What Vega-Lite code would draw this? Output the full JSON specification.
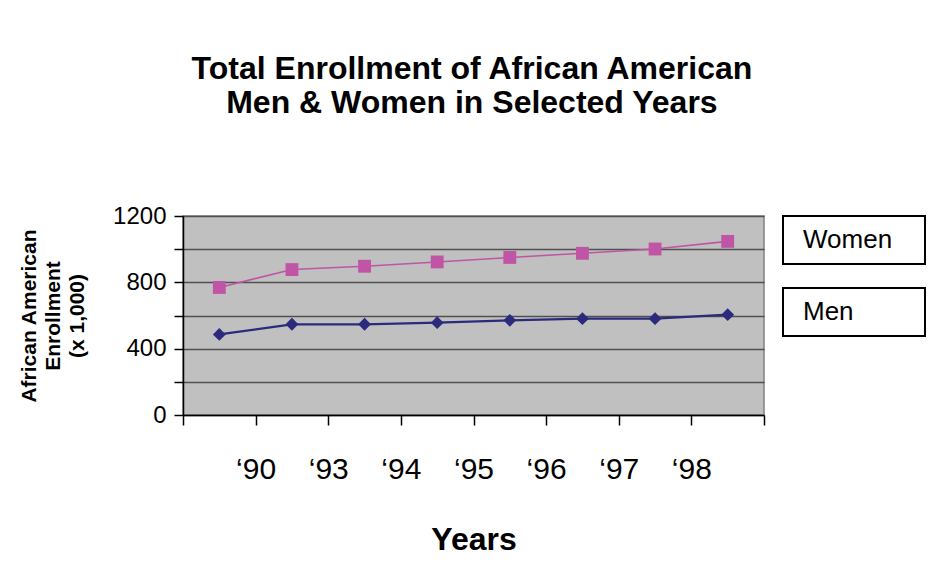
{
  "$schema": "https://vega.github.io/schema/vega-lite/v6.json",
  "background": "white",
  "padding": {"left": 17, "top": 53, "right": 3, "bottom": 5},
  "bounds": "flush",
  "spacing": 19,
  "title": {
    "text": ["Total Enrollment of African American", "Men & Women in Selected Years"],
    "fontSize": 32,
    "fontWeight": "bold",
    "anchor": "middle",
    "lineHeight": 34,
    "offset": 83,
    "color": "black"
  },
  "datasets": {
    "enrollment": [
      {"year": "", "series": "Women", "value": 769},
      {"year": "‘90", "series": "Women", "value": 877},
      {"year": "‘93", "series": "Women", "value": 897},
      {"year": "‘94", "series": "Women", "value": 923},
      {"year": "‘95", "series": "Women", "value": 950},
      {"year": "‘96", "series": "Women", "value": 975},
      {"year": "‘97", "series": "Women", "value": 1001},
      {"year": "‘98", "series": "Women", "value": 1047},
      {"year": "", "series": "Men", "value": 486},
      {"year": "‘90", "series": "Men", "value": 547},
      {"year": "‘93", "series": "Men", "value": 547},
      {"year": "‘94", "series": "Men", "value": 557},
      {"year": "‘95", "series": "Men", "value": 571},
      {"year": "‘96", "series": "Men", "value": 581},
      {"year": "‘97", "series": "Men", "value": 581},
      {"year": "‘98", "series": "Men", "value": 605}
    ],
    "legendboxes": [
      {"series": "Women"},
      {"series": "Men"}
    ]
  },
  "hconcat": [
    {
      "width": 581,
      "height": 199,
      "data": {"name": "enrollment"},
      "encoding": {
        "x": {
          "field": "year",
          "type": "ordinal",
          "sort": null,
          "scale": {"type": "band", "paddingInner": 0, "paddingOuter": 0},
          "axis": {
            "title": "Years",
            "labelAngle": 0,
            "tickBand": "extent",
            "labelOffset": -36.3,
            "tickSize": 10,
            "tickColor": "black",
            "domainColor": "black",
            "labelPadding": 29,
            "labelFontSize": 30,
            "titleFontSize": 32,
            "titleFontWeight": "bold",
            "titlePadding": 40,
            "grid": false
          }
        },
        "y": {
          "field": "value",
          "type": "quantitative",
          "scale": {"domain": [0, 1200]},
          "axis": {
            "title": ["African American", "Enrollment", "(x 1,000)"],
            "titleFontSize": 21,
            "titleFontWeight": "bold",
            "titleLineHeight": 24,
            "titlePadding": 25,
            "values": [0, 200, 400, 600, 800, 1000, 1200],
            "format": "d",
            "labelExpr": "datum.value % 400 === 0 ? datum.label : ''",
            "labelFontSize": 24,
            "labelPadding": 8,
            "tickSize": 9,
            "tickColor": "black",
            "domainColor": "black",
            "grid": true,
            "gridColor": "#505050",
            "gridWidth": 1.5
          }
        },
        "color": {
          "field": "series",
          "type": "nominal",
          "scale": {"domain": ["Women", "Men"], "range": ["#BF55A4", "#2B2A7C"]},
          "legend": null
        },
        "strokeWidth": {
          "field": "series",
          "type": "nominal",
          "scale": {"domain": ["Women", "Men"], "range": [1.6, 2.2]},
          "legend": null
        }
      },
      "layer": [
        {"mark": {"type": "line"}},
        {
          "mark": {"type": "point", "filled": true, "opacity": 1, "size": 165, "strokeWidth": 0},
          "encoding": {
            "strokeWidth": {"value": 0},
            "shape": {
              "field": "series",
              "type": "nominal",
              "scale": {"domain": ["Women", "Men"], "range": ["square", "diamond"]},
              "legend": null
            }
          }
        }
      ]
    },
    {
      "width": 142,
      "height": 120,
      "data": {"name": "legendboxes"},
      "view": {"stroke": null, "fill": null},
      "encoding": {
        "y": {
          "field": "series",
          "type": "nominal",
          "sort": ["Women", "Men"],
          "scale": {"type": "band", "paddingInner": 0.3333, "paddingOuter": 0},
          "axis": null
        }
      },
      "layer": [
        {"mark": {"type": "rect", "fill": "white", "stroke": "black", "strokeWidth": 2}},
        {
          "mark": {"type": "text", "fontSize": 26, "align": "left", "dx": -51, "color": "black"},
          "encoding": {"text": {"field": "series"}}
        }
      ]
    }
  ],
  "config": {
    "font": "Liberation Sans",
    "view": {"fill": "#C0C0C0", "stroke": "#808080", "strokeWidth": 1.5},
    "axis": {"labelColor": "black", "titleColor": "black", "domainWidth": 1.5, "tickWidth": 1.5}
  }
}
